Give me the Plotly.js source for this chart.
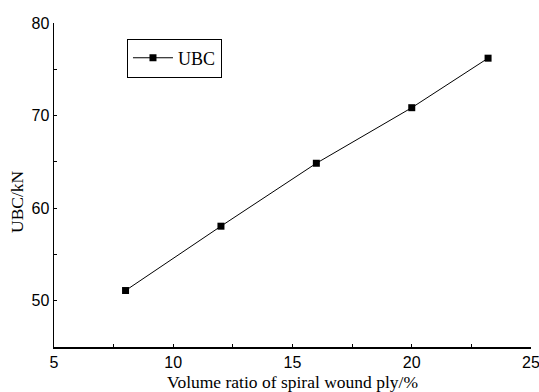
<!DOCTYPE html>
<html>
<head>
<meta charset="utf-8">
<script src="https://cdn.plot.ly/plotly-3.0.1.min.js"></script>
<style>html,body{margin:0;padding:0;background:#fff;}#chart{width:539px;height:392px;}</style>
</head>
<body>
<div id="chart"></div>
<script>
const volumeRatio = [8, 12, 16, 20, 23.2];
const ubc = [51.1, 58.05, 64.85, 70.85, 76.2];
const seriesName = 'UBC';
const xTitle = 'Volume ratio of spiral wound ply/%';
const yTitle = 'UBC/kN';

const trace = {
  x: volumeRatio, y: ubc, name: seriesName, type: 'scatter', mode: 'lines+markers',
  line: {color: '#000', width: 1},
  marker: {symbol: 'square', size: 7, color: '#000'}
};

const layout = {
  width: 539, height: 392,
  margin: {l: 54, r: 8, t: 23, b: 45},
  paper_bgcolor: '#fff', plot_bgcolor: '#fff',
  showlegend: true,
  legend: {x: 0.153, y: 0.952, xanchor: 'left', yanchor: 'top', bordercolor: '#000', borderwidth: 1,
           itemwidth: 40,
           font: {family: 'Liberation Serif', size: 18, color: '#000'}, bgcolor: '#fff'},
  xaxis: {range: [5, 25], tickvals: [5, 10, 15, 20, 25], showline: true, linecolor: '#000', linewidth: 1.5,
          ticks: 'inside', ticklen: 3, tickcolor: '#000', showgrid: false, zeroline: false,
          ticklabeloverflow: 'allow',
          minor: {dtick: 2.5, ticks: 'inside', ticklen: 3, tickcolor: '#000', showgrid: false},
          tickfont: {family: 'Liberation Sans', size: 16, color: '#000'},
          title: {text: xTitle, font: {family: 'Liberation Serif', size: 17.5, color: '#000'}, standoff: 6}},
  yaxis: {range: [45, 80], tickvals: [50, 60, 70, 80], showline: true, linecolor: '#000', linewidth: 1.5,
          ticks: 'inside', ticklen: 3, tickcolor: '#000', showgrid: false, zeroline: false,
          ticklabeloverflow: 'allow',
          minor: {dtick: 5, ticks: 'inside', ticklen: 3, tickcolor: '#000', showgrid: false},
          tickfont: {family: 'Liberation Sans', size: 16, color: '#000'}},
  annotations: [{text: yTitle, xref: 'paper', yref: 'paper', x: -0.078, y: 0.45, xanchor: 'center', yanchor: 'middle',
                 textangle: -90, showarrow: false, font: {family: 'Liberation Serif', size: 17.5, color: '#000'}}]
};

Plotly.newPlot('chart', [trace], layout, {displayModeBar: false, staticPlot: true});
</script>
</body>
</html>
